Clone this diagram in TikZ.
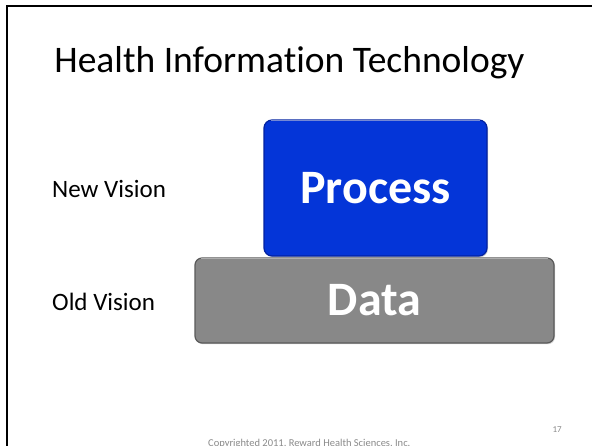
\documentclass[tikz,border=0pt]{standalone}
\usepackage{fontspec}
\setmainfont{Carlito}[Ligatures=NoCommon]
\usetikzlibrary{shadows}
\definecolor{procblue}{HTML}{0435D8}
\definecolor{procedge}{HTML}{0322A0}
\definecolor{datagray}{HTML}{888888}
\definecolor{dataedge}{HTML}{5A5A5A}
\definecolor{footgray}{HTML}{8A8A8A}
\tikzset{
  boxbase/.style={rounded corners=8pt, line width=1.2pt, inner sep=0pt,
    text=white, font=\fontsize{48}{52}\selectfont\bfseries,
    drop shadow={shadow xshift=1pt, shadow yshift=-1.2pt, opacity=0.35}},
  procbox/.style={boxbase, fill=procblue, draw=procedge,
    minimum width=223pt, minimum height=136pt},
  databox/.style={boxbase, rounded corners=7pt, fill=datagray, draw=dataedge,
    minimum width=359pt, minimum height=85pt},
  sidelabel/.style={anchor=base west, inner sep=0pt, font=\fontsize{25}{28}\selectfont},
  foot/.style={inner sep=0pt, text=footgray}
}
\begin{document}
\begin{tikzpicture}[x=1pt,y=-1pt]
\useasboundingbox (0,0) rectangle (592,445);
\clip (0,0) rectangle (592,445);
\fill[white] (0,0) rectangle (592,445);
% slide frame (left and top edges)
\draw[line width=2pt] (7,460) -- (7,6) -- (610,6);
% title
\node[inner sep=0pt, anchor=base, font=\fontsize{37.5}{42}\selectfont] (title) at (289.5,72) {Health Information Technology};
% boxes
\node[procbox] (process) at (375.5,188) {\raisebox{-2.5pt}{Process}};
\node[databox] (data) at (374.5,300.5) {\raisebox{-0.5pt}{Data}};
% highlights along the top edges
\draw[white, opacity=0.45, line width=0.8pt] ([xshift=8pt,yshift=-1.3pt]process.north west) -- ([xshift=-8pt,yshift=-1.3pt]process.north east);
\draw[white, opacity=0.45, line width=0.8pt] ([xshift=7pt,yshift=-1.3pt]data.north west) -- ([xshift=-7pt,yshift=-1.3pt]data.north east);
% side labels
\node[sidelabel] (newv) at (52,197) {New Vision};
\node[sidelabel] (oldv) at (52,310) {Old Vision};
% footer
\node[foot, anchor=base east, font=\fontsize{9}{10}\selectfont] (page) at (562,432) {17};
\node[foot, anchor=base west, font=\fontsize{10.5}{11}\selectfont] (copy) at (208,446.5) {Copyrighted 2011, Reward Health Sciences, Inc.};
\end{tikzpicture}
\end{document}
